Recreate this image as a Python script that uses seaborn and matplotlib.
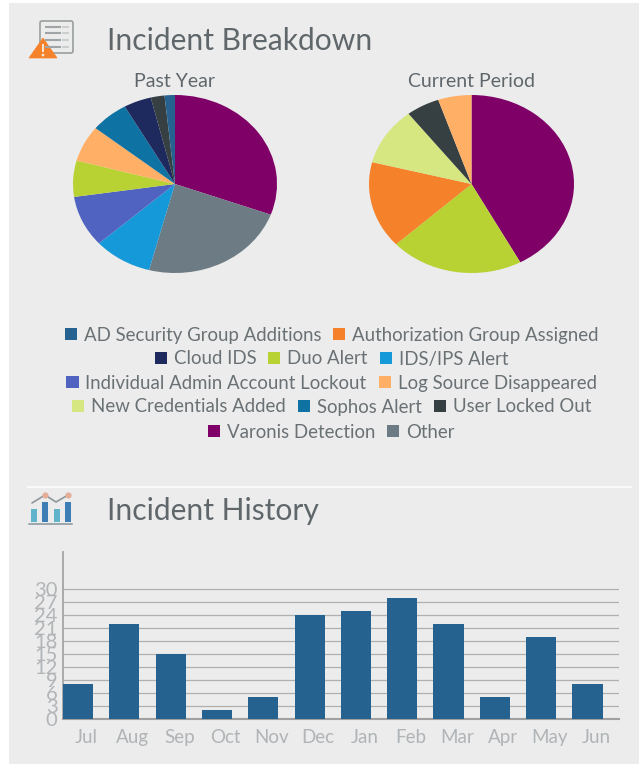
#!/usr/bin/env python3
"""Incident dashboard: two breakdown pies, a legend and a monthly history bar chart."""
import matplotlib
matplotlib.use("Agg")
import matplotlib.pyplot as plt
import pandas as pd
import seaborn as sns
from matplotlib.patches import Circle, FancyBboxPatch, Patch, Polygon, Rectangle
from matplotlib.transforms import ScaledTranslation

W, H = 639, 764
PANEL = "#ececec"
BAR_COLOR = "#26628f"

# ---------- data ----------
categories = [
    "AD Security Group Additions", "Authorization Group Assigned", "Cloud IDS",
    "Duo Alert", "IDS/IPS Alert", "Individual Admin Account Lockout",
    "Log Source Disappeared", "New Credentials Added", "Sophos Alert",
    "User Locked Out", "Varonis Detection", "Other",
]
category_colors = [
    "#26628f", "#f5812b", "#1e2a5e", "#b8d133", "#1599d8", "#5163c0",
    "#ffb066", "#d6e680", "#0e72a3", "#363f42", "#7f0066", "#6d7b84",
]
past_labels = [
    "Varonis Detection", "Other", "IDS/IPS Alert", "Individual Admin Account Lockout",
    "Duo Alert", "Log Source Disappeared", "Sophos Alert", "Cloud IDS",
    "User Locked Out", "AD Security Group Additions",
]
past_values = [56, 43, 17, 17, 12, 12, 11, 8, 4, 3]
current_labels = [
    "Varonis Detection", "Duo Alert", "Authorization Group Assigned",
    "New Credentials Added", "User Locked Out", "Log Source Disappeared",
]
current_values = [8, 4, 3, 2, 1, 1]
months = ["Jul", "Aug", "Sep", "Oct", "Nov", "Dec", "Jan", "Feb", "Mar", "Apr", "May", "Jun"]
incidents = [8, 22, 15, 2, 5, 24, 25, 28, 22, 5, 19, 8]
y_ticks = [0, 3, 6, 9, 12, 15, 18, 21, 24, 27, 30]


def px_axes(fig, left, top, right, bottom):
    """Axes placed by pixel edges, measured from the top left of the image."""
    return fig.add_axes([left / W, 1 - bottom / H, (right - left) / W, (bottom - top) / H])


sns.set_theme(style="white")
plt.rcParams["font.family"] = ["Lato", "Open Sans", "DejaVu Sans"]
color_of = dict(zip(categories, sns.color_palette(category_colors)))

fig = plt.figure(figsize=(W / 100, H / 100), dpi=100, facecolor="white")

# page layer in pixel coordinates: panel, divider and the two icons
bg = fig.add_axes([0, 0, 1, 1], zorder=0)
bg.set_xlim(0, W)
bg.set_ylim(H, 0)
bg.axis("off")
bg.add_patch(Rectangle((9, 3), 630, 761, color=PANEL, lw=0))
bg.add_patch(Rectangle((27, 486), 605, 2, color="#f9f9f9", lw=0))

# report icon
bg.add_patch(FancyBboxPatch((40, 21), 33, 32, boxstyle="round,pad=0,rounding_size=2",
                            fc=PANEL, ec="#9a9ea0", lw=1.2))
for y in (27, 33, 40, 47):
    bg.plot([45, 61], [y, y], color="#a0a4a6", lw=1.5, solid_capstyle="butt")
    bg.plot([62, 69], [y, y], color="#c2c5c6", lw=1.1, solid_capstyle="butt")
bg.add_patch(Polygon([[29, 58], [57, 58], [43, 38]], closed=True, fc="#f5812b", ec="#f5812b", lw=0.5))
bg.add_patch(Rectangle((41.8, 44), 2.4, 8, color="#fbe3d2", lw=0))
bg.add_patch(Circle((43, 55), 1.4, color="#fbe3d2", lw=0))

# history icon
for x, top, col in ((30.5, 509, "#5fb4cc"), (42, 502, "#3f7db5"), (54, 509, "#5fb4cc"), (65, 502, "#3f7db5")):
    bg.add_patch(Rectangle((x, top), 6, 522 - top, color=col, lw=0))
bg.plot([29, 72], [524, 524], color="#9aa6ad", lw=1.4)
trend_x, trend_y = [32, 45, 56, 68], [503, 495, 502, 495]
bg.plot(trend_x, trend_y, color="#8d969b", lw=1.2)
bg.scatter(trend_x[1::2], trend_y[1::2], s=20, color="#e3ad98", zorder=3, lw=0)

# headings
TITLE_COLOR = "#60676b"
fig.text(107 / W, 1 - 41 / H, "Incident Breakdown", fontsize=21.6, color=TITLE_COLOR, va="center")
fig.text(107 / W, 1 - 511 / H, "Incident History", fontsize=21.6, color=TITLE_COLOR, va="center")

# ---------- pies ----------
pies = [
    ("Past Year", past_labels, past_values, (73, 277)),
    ("Current Period", current_labels, current_values, (369, 574)),
]
for title, labels, values, (left, right) in pies:
    ax = px_axes(fig, left, 95, right, 273)
    ax.patch.set_alpha(0)
    ax.pie(values, colors=[color_of[c] for c in labels], startangle=90,
           counterclock=False, radius=1.0, wedgeprops={"linewidth": 0})
    ax.set_aspect("auto")
    ax.set_xlim(-1, 1)
    ax.set_ylim(-1, 1)
    fig.text((left + right) / 2 / W, 1 - 81.5 / H, title, fontsize=14,
             color="#60676b", ha="center", va="center")

# ---------- legend, one centred row at a time ----------
legend_rows = [categories[:2], categories[2:5], categories[5:7], categories[7:10], categories[10:]]
legend_y = [335, 359, 383, 407, 432]
for row, y in zip(legend_rows, legend_y):
    handles = [Patch(facecolor=color_of[c], edgecolor="none", label=c) for c in row]
    fig.legend(handles=handles, loc="center", bbox_to_anchor=(331.5 / W, 1 - y / H),
               ncol=len(row), frameon=False, fontsize=13.4, labelcolor="#6a7175",
               handlelength=0.65, handleheight=0.65, handletextpad=0.37,
               columnspacing=0.64, borderpad=0, borderaxespad=0)

# ---------- history bars ----------
history = pd.DataFrame({"month": months, "incidents": incidents})
ax = px_axes(fig, 63, 552, 619, 719)
ax.patch.set_alpha(0)
sns.barplot(data=history, x="month", y="incidents", color=BAR_COLOR, saturation=1,
            width=0.65, linewidth=0, ax=ax, zorder=3)
ax.set_xlim(-0.324, 11.68)
ax.set_ylim(0, 38.5)
ax.set_yticks(y_ticks)
ax.set_xlabel("")
ax.set_ylabel("")
ax.grid(axis="y", color="#b0b0b0", lw=0.9, zorder=0)
ax.set_axisbelow(True)
sns.despine(ax=ax, top=True, right=True)
ax.spines["left"].set_color("#a5a5a5")
ax.spines["left"].set_linewidth(1.3)
ax.spines["bottom"].set_color("#a0a0a0")
ax.spines["bottom"].set_linewidth(1.5)
ax.tick_params(axis="x", length=0, pad=7, labelsize=13.5, labelcolor="#b0b4b6")
ax.tick_params(axis="y", length=0, pad=4, labelsize=14.5, labelcolor="#b2b5b7")
# month labels sit a little right of their bars
shift = ScaledTranslation(8.5 / 100, 0, fig.dpi_scale_trans)
for lab in ax.get_xticklabels():
    lab.set_transform(lab.get_transform() + shift)

plt.savefig("out.png", dpi=100, facecolor=fig.get_facecolor())
